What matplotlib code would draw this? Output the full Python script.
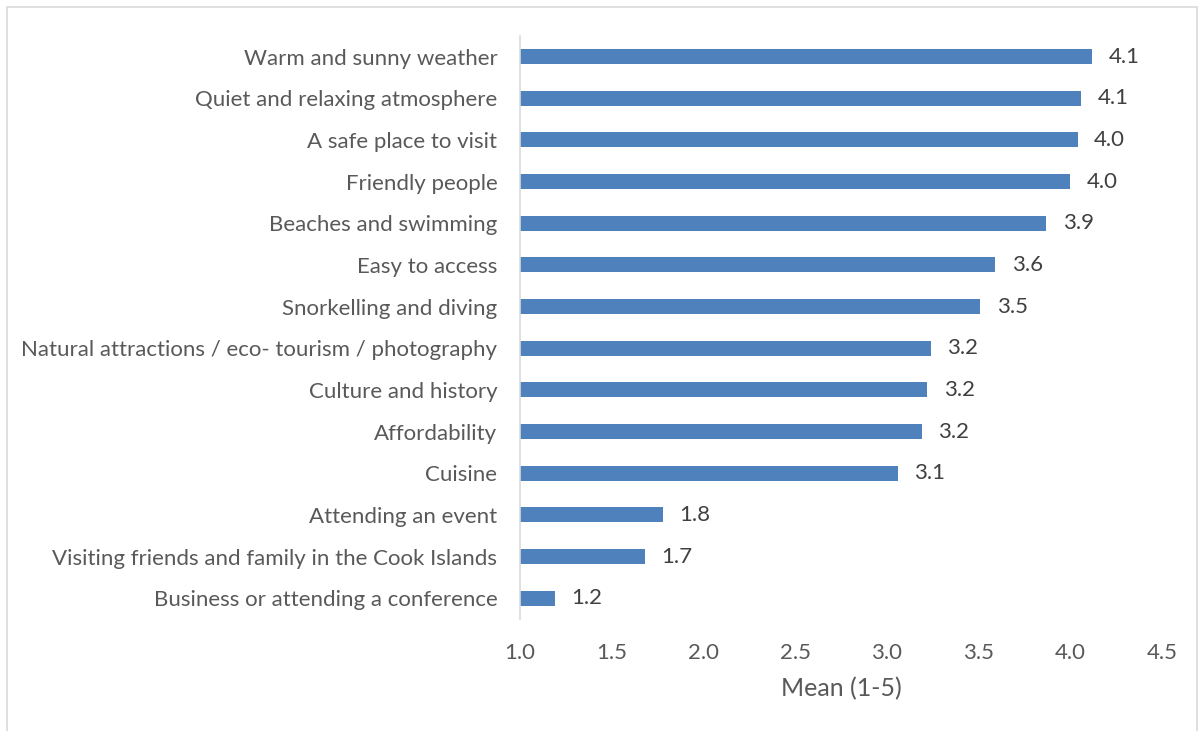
import numpy as np
import matplotlib.pyplot as plt
from matplotlib.patches import Rectangle

categories = [
    'Warm and sunny weather',
    'Quiet and relaxing atmosphere',
    'A safe place to visit',
    'Friendly people',
    'Beaches and swimming',
    'Easy to access',
    'Snorkelling and diving',
    'Natural attractions / eco- tourism / photography',
    'Culture and history',
    'Affordability',
    'Cuisine',
    'Attending an event',
    'Visiting friends and family in the Cook Islands',
    'Business or attending a conference',
]
means = [4.12, 4.06, 4.04, 4.00, 3.87, 3.59, 3.51, 3.24, 3.22, 3.19, 3.06, 1.78, 1.68, 1.19]
xticks = [1.0, 1.5, 2.0, 2.5, 3.0, 3.5, 4.0, 4.5]

plt.rcParams['font.family'] = ['Lato', 'DejaVu Sans']
text_color = '#595959'

fig = plt.figure(figsize=(12.03, 7.31), dpi=100)
ax = fig.add_axes([0.432, 0.153, 0.534, 0.798])

y = np.arange(len(categories))
ax.barh(y, [m - 1.0 for m in means], left=1.0, height=0.36, color='#4F81BD')
for yi, m in zip(y, means):
    ax.text(m + 0.09, yi, f'{m:.1f}', va='center', ha='left', fontsize=16, color='#404040')

ax.set_yticks(y)
ax.set_yticklabels(categories, fontsize=16, color=text_color)
ax.set_ylim(len(categories) - 0.5, -0.5)
ax.set_xlim(1.0, 4.5)
ax.set_xticks(xticks)
ax.set_xticklabels([f'{t:.1f}' for t in xticks], fontsize=16, color=text_color)
ax.tick_params(axis='both', length=0)
ax.tick_params(axis='x', pad=17)
ax.tick_params(axis='y', pad=16)
ax.set_xlabel('Mean (1-5)', fontsize=18, color=text_color, labelpad=10)

for side in ['top', 'right', 'bottom']:
    ax.spines[side].set_visible(False)
ax.spines['left'].set_color('#D9D9D9')
ax.spines['left'].set_linewidth(1.2)

fig.patches.append(Rectangle((7 / 1203, -0.01), 1190 / 1203, 1 - 7 / 731 + 0.01,
                             transform=fig.transFigure, fill=False,
                             edgecolor='#D9D9D9', linewidth=1.2))

fig.savefig('out.png', dpi=100)
